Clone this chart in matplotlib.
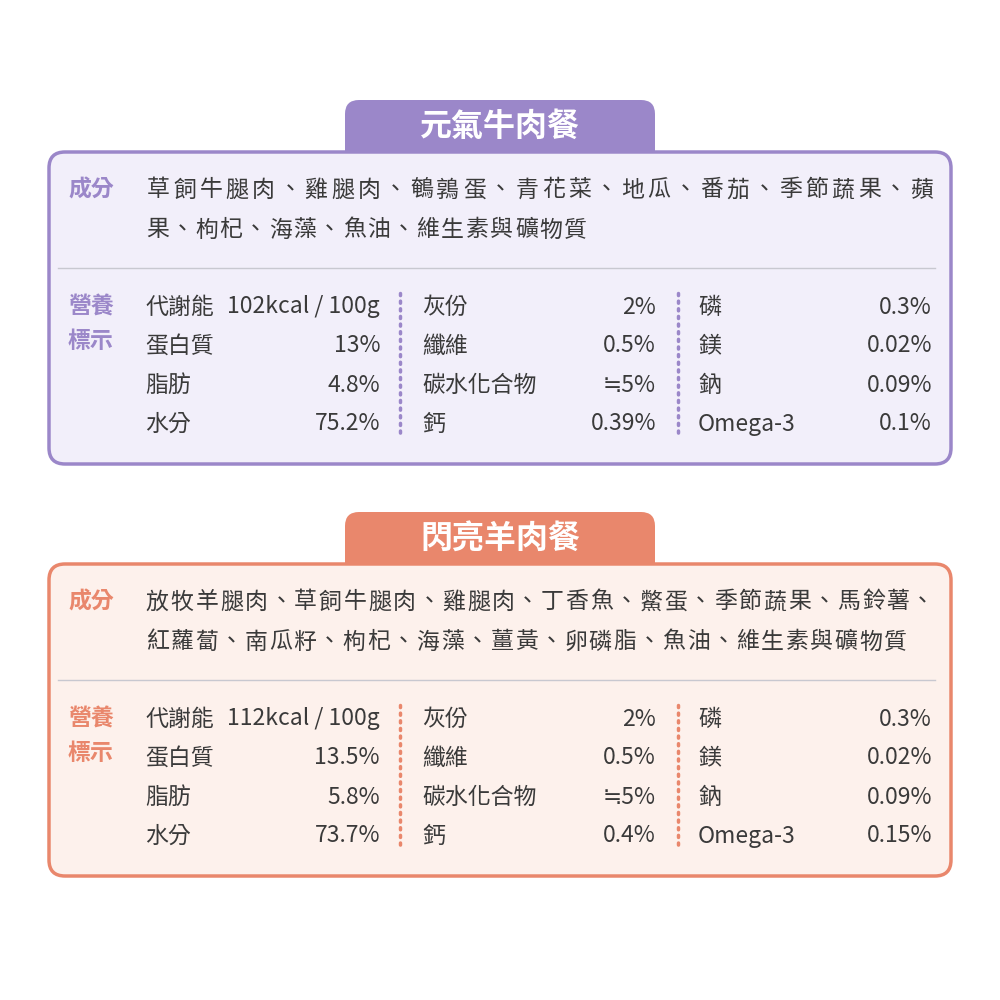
import matplotlib.pyplot as plt
from matplotlib.patches import FancyBboxPatch

plt.rcParams['font.family'] = ['Noto Sans CJK TC', 'DejaVu Sans']

# ---- data ----
titles = ["元氣牛肉餐", "閃亮羊肉餐"]
ingredients = [
    ["草飼牛腿肉、雞腿肉、鵪鶉蛋、青花菜、地瓜、番茄、季節蔬果、蘋",
     "果、枸杞、海藻、魚油、維生素與礦物質"],
    ["放牧羊腿肉、草飼牛腿肉、雞腿肉、丁香魚、鱉蛋、季節蔬果、馬鈴薯、",
     "紅蘿蔔、南瓜籽、枸杞、海藻、薑黃、卵磷脂、魚油、維生素與礦物質"],
]
col1_names = ["代謝能", "蛋白質", "脂肪", "水分"]
col2_names = ["灰份", "纖維", "碳水化合物", "鈣"]
col3_names = ["磷", "鎂", "鈉", "Omega-3"]
col1_vals = [["102kcal / 100g", "13%", "4.8%", "75.2%"],
             ["112kcal / 100g", "13.5%", "5.8%", "73.7%"]]
col2_vals = [["2%", "0.5%", "≒5%", "0.39%"],
             ["2%", "0.5%", "≒5%", "0.4%"]]
col3_vals = [["0.3%", "0.02%", "0.09%", "0.1%"],
             ["0.3%", "0.02%", "0.09%", "0.15%"]]
accents = ["#9b87c9", "#e9876c"]
fills = ["#f2effa", "#fdf1ec"]
txt = "#3a3a3a"

fig = plt.figure(figsize=(10, 10), dpi=100)
ax = fig.add_axes([0, 0, 1, 1])
ax.set_xlim(0, 1000)
ax.set_ylim(1000, 0)
ax.axis('off')

fs = 16.5
for k, top in enumerate([100, 512]):
    acc, fill = accents[k], fills[k]
    ax.add_patch(FancyBboxPatch((345, top), 310, 70, boxstyle="round,pad=0,rounding_size=14",
                                fc=acc, ec='none', zorder=1))
    ax.text(500, top + 27, titles[k], color='white', fontsize=23, fontweight='bold',
            ha='center', va='center', zorder=3)
    bt = top + 52
    ax.add_patch(FancyBboxPatch((49, bt), 902, 312, boxstyle="round,pad=0,rounding_size=16",
                                fc=fill, ec=acc, lw=2.5, zorder=2))
    ax.text(68, bt + 38, "成分", color=acc, fontsize=fs, fontweight='bold', va='center', zorder=3)
    for i, line in enumerate(ingredients[k]):
        pitch = (935 - 145) / len(line) if i == 0 else 24.6
        for j, ch in enumerate(line):
            ax.text(145 + pitch * (j + 0.5), bt + 38 + 40 * i, ch, color=txt, fontsize=fs,
                    va='center', ha='center', zorder=3)
    ax.plot([58, 935], [bt + 116, bt + 116], color='#c8c8d0', lw=1, zorder=3)
    r0 = bt + 155
    ax.text(68, r0, "營養", color=acc, fontsize=fs, fontweight='bold', va='center', zorder=3)
    ax.text(68, r0 + 34, "標示", color=acc, fontsize=fs, fontweight='bold', va='center', zorder=3)
    for i in range(4):
        y = r0 + 39 * i
        for names, vals, xl, xr in [(col1_names, col1_vals[k], 145, 380),
                                    (col2_names, col2_vals[k], 422, 656),
                                    (col3_names, col3_vals[k], 698, 932)]:
            ax.text(xl, y, names[i], color=txt, fontsize=fs, va='center', zorder=3)
            ax.text(xr, y, vals[i], color=txt, fontsize=fs, va='center', ha='right', zorder=3)
    for xd in [400, 678]:
        ax.plot([xd, xd], [r0 - 14, r0 + 131], color=acc, lw=2.5, ls=(0, (0.6, 1.6)),
                dash_capstyle='round', zorder=3)

fig.savefig("out.png", dpi=100, facecolor='white')
